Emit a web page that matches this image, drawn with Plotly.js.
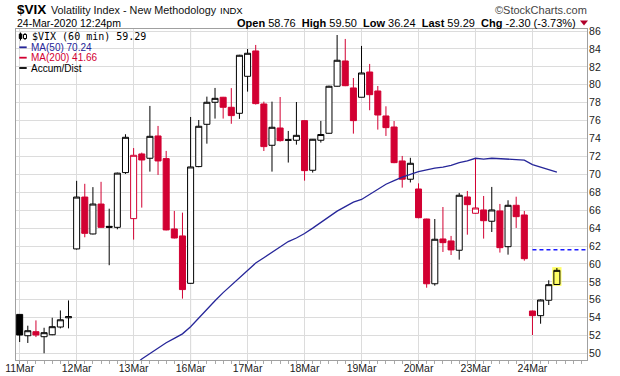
<!DOCTYPE html>
<html><head><meta charset="utf-8">
<script src="https://cdn.plot.ly/plotly-3.0.1.min.js"></script>
<style>html,body{margin:0;padding:0;background:#fff;}#chart{width:620px;height:376px;}</style>
</head><body><div id="chart"></div>
<script>
// ---- data ----
const dayLabels = ['11Mar','12Mar','13Mar','16Mar','17Mar','18Mar','19Mar','20Mar','23Mar','24Mar'];
const weekStartLabels = ['16Mar','23Mar'];
const barsPerDay = 7;
const openV  = [54.37,51.99,52.44,51.88,52.10,52.96,53.99, 61.68,67.47,63.35,66.69,64.20,64.09,70.20,
                65.06,72.28,71.80,74.29,71.76,63.91,63.13, 57.84,70.87,75.59,78.05,78.61,77.49,76.82,
                80.95,83.78,77.86,73.25,75.18,73.80,73.81, 76.00,70.46,73.81,74.59,79.84,82.66,79.65,
                78.61,81.43,79.31,76.52,75.29,71.50,69.46, 68.37,65.02,57.79,62.79,62.57,61.53,67.48,
                65.66,66.03,64.77,65.92,61.93,66.55,65.47, 54.75,54.23,55.95,57.71];
const highV  = [54.37,53.11,53.70,52.88,54.00,54.81,55.93, 69.28,68.95,68.58,69.17,66.17,70.20,74.48,
                72.94,72.43,77.64,75.41,72.62,65.92,65.73, 76.41,76.07,78.68,79.65,78.65,79.63,83.35,
                84.00,84.45,78.12,78.12,78.64,74.85,78.08, 76.05,73.95,75.97,79.90,85.56,85.12,80.76,
                84.34,82.33,79.87,77.60,75.96,72.06,71.85, 69.00,65.05,65.02,66.36,63.13,67.93,68.15,
                71.80,67.59,68.60,66.70,67.11,67.51,65.92, 54.80,56.05,58.18,59.55];
const lowV   = [51.29,51.18,51.84,50.03,52.05,52.81,52.81, 61.60,62.98,63.30,64.05,59.86,63.87,70.05,
                62.72,66.29,70.31,69.94,63.75,62.85,56.13, 57.80,70.80,73.43,76.23,76.23,75.65,76.20,
                79.24,77.80,72.61,70.31,73.66,71.32,73.32, 69.30,70.20,73.55,74.55,79.80,79.85,74.55,
                78.60,77.16,75.00,74.29,71.25,68.52,69.10, 65.10,57.35,57.58,61.34,61.00,60.48,63.27,
                65.60,62.83,63.57,61.27,61.04,64.02,60.37, 52.07,53.33,55.42,57.65];
const closeV = [52.07,52.55,52.07,52.33,53.00,53.77,54.12, 67.47,63.42,66.69,64.09,64.10,70.14,74.14,
                72.13,71.61,74.25,71.50,63.80,62.90,57.14, 70.83,75.37,78.05,78.49,77.49,76.56,83.30,
                83.52,77.90,73.10,75.26,73.77,73.86,74.36, 70.42,73.92,74.45,79.84,82.74,79.90,76.00,
                81.32,78.90,76.63,75.22,71.31,69.46,71.24, 65.17,57.79,62.76,62.38,61.57,67.67,66.62,
                66.25,64.83,66.03,61.82,66.55,65.28,60.59, 54.23,55.98,57.69,59.29];
const priorDayClose = 47.30;
const ma50 = [null,null,null,null,null,null,null,null,null,null,null,null,null,48.0,
              48.6,49.4,50.0,50.6,51.2,51.7,52.2, 53.0,54.0,55.0,55.9,56.8,57.6,58.5,
              59.3,60.1,60.7,61.3,61.9,62.5,62.9, 63.4,64.0,64.6,65.3,65.9,66.4,66.9,
              67.2,67.8,68.4,68.9,69.3,69.7,70.0, 70.3,70.5,70.7,70.8,71.0,71.3,71.5,
              71.8,71.7,71.8,71.75,71.7,71.7,71.6, 71.1,70.8,70.5,70.24];
const ma200Last = 41.66;
const prevClose = 61.59;
const hdrOpen = 58.76, hdrHigh = 59.50, hdrLow = 36.24, hdrLast = 59.29, hdrChg = -2.30, hdrChgPct = -3.73;
const stampText = '24-Mar-2020 12:24pm';

// ---- build ----
const RED = '#d20032', NAVY = '#262699', YEL = '#ffff66';
const L = 16, T = 29, W = 571, H = 331;
const P = px => (px - L) / W;
const Q = py => 1 - (py - T) / H;
const n = closeV.length;
const idx = closeV.map((_, i) => i);
function cls(i) {
  if (i === n - 1) return 'hl';
  const pc = i === 0 ? priorDayClose : closeV[i - 1];
  return (closeV[i] < pc ? 'r' : 'k') + (closeV[i] > openV[i] ? 'h' : 'f');
}
function candles(key, lineColor, fill) {
  const ids = idx.filter(i => cls(i) === key);
  const st = {line: {color: lineColor, width: 1}, fillcolor: fill};
  return {type: 'candlestick', x: ids, open: ids.map(i => openV[i]), high: ids.map(i => highV[i]),
    low: ids.map(i => lowV[i]), close: ids.map(i => closeV[i]), increasing: st, decreasing: st,
    whiskerwidth: 0, hoverinfo: 'skip', showlegend: false};
}
const traces = [
  candles('kh', '#000', '#fff'), candles('kf', '#000', '#000'),
  candles('rh', RED, '#fff'), candles('rf', RED, RED), candles('hl', '#000', YEL),
  {type: 'scatter', mode: 'lines', x: idx, y: ma50, line: {color: NAVY, width: 1.3},
   hoverinfo: 'skip', showlegend: false}
];
const tickvals = dayLabels.map((d, k) => k * barsPerDay);
const xRange = [-0.45, 69.7];
const font = 'Liberation Sans, Arial, sans-serif';
const shapes = [
  {type: 'rect', xref: 'paper', yref: 'paper', x0: P(16.5), x1: P(150), y0: Q(73), y1: Q(29.5),
   fillcolor: '#fff', line: {width: 0}, layer: 'between'},
  ...weekStartLabels.map(d => ({type: 'line', xref: 'x', yref: 'paper',
    x0: dayLabels.indexOf(d) * barsPerDay, x1: dayLabels.indexOf(d) * barsPerDay, y0: 0, y1: 1,
    line: {color: '#bdbdbd', width: 1}, layer: 'between'})),
  {type: 'rect', xref: 'x', yref: 'y', x0: n - 1 - 0.57, x1: n - 1 + 0.57,
   y0: lowV[n - 1] - 0.1, y1: highV[n - 1] + 0.1, fillcolor: YEL, line: {width: 0}, layer: 'between'},
  {type: 'line', xref: 'x', yref: 'y', x0: (dayLabels.length - 1) * barsPerDay, x1: xRange[1],
   y0: prevClose, y1: prevClose, line: {color: '#1a1aff', width: 1.3, dash: '4px,3px'}},
  // change-direction marker (down triangle) in header
  {type: 'path', xref: 'paper', yref: 'paper',
   path: 'M ' + P(580) + ' ' + Q(20.5) + ' L ' + P(588) + ' ' + Q(20.5) + ' L ' + P(584) + ' ' + Q(25.5) + ' Z',
   fillcolor: '#b0002a', line: {width: 0}},
  // legend markers
  {type: 'rect', xref: 'paper', yref: 'paper', x0: P(19.3), x1: P(26.7), y0: Q(48.2), y1: Q(46.4),
   fillcolor: NAVY, line: {width: 0}},
  {type: 'rect', xref: 'paper', yref: 'paper', x0: P(19.3), x1: P(26.7), y0: Q(58.6), y1: Q(56.8),
   fillcolor: RED, line: {width: 0}},
  {type: 'rect', xref: 'paper', yref: 'paper', x0: P(19.3), x1: P(26.7), y0: Q(68.9), y1: Q(67.1),
   fillcolor: '#000', line: {width: 0}},
  {type: 'line', xref: 'paper', yref: 'paper', x0: P(20.5), x1: P(20.5), y0: Q(40.5), y1: Q(32.5),
   line: {color: '#000', width: 1}},
  {type: 'rect', xref: 'paper', yref: 'paper', x0: P(19.3), x1: P(21.8), y0: Q(38.5), y1: Q(34),
   fillcolor: '#000', line: {color: '#000', width: 1}},
  {type: 'line', xref: 'paper', yref: 'paper', x0: P(25), x1: P(25), y0: Q(40), y1: Q(33),
   line: {color: '#000', width: 1}},
  {type: 'rect', xref: 'paper', yref: 'paper', x0: P(23.5), x1: P(26.5), y0: Q(38.5), y1: Q(34.5),
   fillcolor: '#fff', line: {color: '#000', width: 1}}
];
function ann(x, y, text, size, opts) {
  return Object.assign({xref: 'paper', yref: 'paper', x: P(x), y: Q(y), text: text, showarrow: false,
    xanchor: 'left', yanchor: 'middle', font: {family: font, size: size, color: '#000'}}, opts || {});
}
const f2 = v => v.toFixed(2);
const annotations = [
  ann(14.5, 10, '<b>$VIX</b>', 13.5),
  ann(48.5, 10.5, 'Volatility Index - New Methodology', 10.8, {font: {family: font, size: 10.8, color: '#111'}}),
  ann(218, 10.5, 'INDX', 9.5),
  ann(589, 10, '©StockCharts.com', 11, {xanchor: 'right', font: {family: font, size: 11, color: '#444'}}),
  ann(14.5, 23, stampText, 10.5),
  ann(578, 23, '<b>Open</b> ' + f2(hdrOpen) + '  <b>High</b> ' + f2(hdrHigh) + '  <b>Low</b> ' + f2(hdrLow) +
      '  <b>Last</b> ' + f2(hdrLast) + '  <b>Chg</b> ' + f2(hdrChg) + ' (' + f2(hdrChgPct) + '%)', 11,
      {xanchor: 'right'}),
  ann(29.5, 36.5, '$VIX (60 min) ' + f2(closeV[n - 1]), 10, {font: {family: 'DejaVu Sans Mono', size: 10, color: '#000'}}),
  ann(28.5, 47.3, 'MA(50) ' + f2(ma50[n - 1]), 10, {font: {family: font, size: 10, color: NAVY}}),
  ann(28.5, 57.7, 'MA(200) ' + f2(ma200Last), 10, {font: {family: font, size: 10, color: RED}}),
  ann(28.5, 68, 'Accum/Dist', 10)
];
const layout = {
  width: 620, height: 376, margin: {l: L, r: 620 - L - W, t: T, b: 376 - T - H},
  paper_bgcolor: '#fff', plot_bgcolor: '#fff', showlegend: false, boxgap: 0.26, boxgroupgap: 0,
  font: {family: font, size: 10.5, color: '#222'},
  xaxis: {range: xRange, tickmode: 'array', tickvals: tickvals, ticktext: dayLabels,
    showgrid: true, gridcolor: '#dcdcdc', gridwidth: 1, zeroline: false, showline: true, mirror: true,
    linecolor: '#a0a0a0', linewidth: 1, ticks: 'outside', ticklen: 3, tickcolor: '#999',
    ticklabelstandoff: -5,
    tickfont: {family: font, size: 10.5, color: '#222'}, rangeslider: {visible: false}, fixedrange: true,
    minor: {tickmode: 'linear', tick0: 0, dtick: 1, ticks: 'outside', ticklen: 3, tickcolor: '#aaa', showgrid: false}},
  yaxis: {range: [49.28, 86.23], side: 'right', tickmode: 'linear', tick0: 50, dtick: 2,
    showgrid: true, gridcolor: '#dcdcdc', gridwidth: 1, zeroline: false, showline: true, mirror: true,
    linecolor: '#a0a0a0', linewidth: 1, ticks: '', ticklabelstandoff: -1,
    tickfont: {family: font, size: 10.5, color: '#222'}, fixedrange: true},
  shapes: shapes, annotations: annotations
};
Plotly.newPlot('chart', traces, layout, {staticPlot: true, displayModeBar: false});
</script></body></html>
